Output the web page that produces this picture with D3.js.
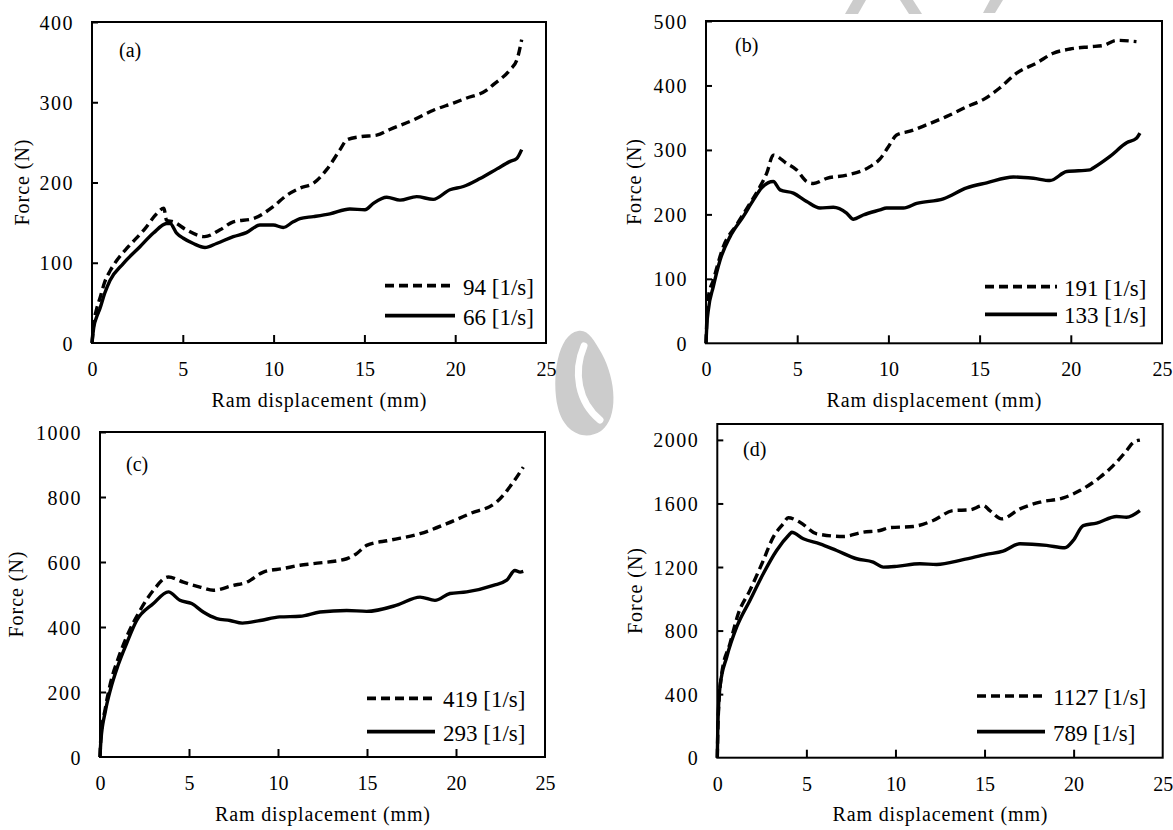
<!DOCTYPE html>
<html><head><meta charset="utf-8">
<script src="https://cdn.jsdelivr.net/npm/d3@7"></script>
<style>
body{margin:0;background:#fff}
svg{display:block}
svg text{font-family:"Liberation Serif","Times New Roman",serif !important;fill:#000}
</style>
</head><body>
<svg id="chart" width="1173" height="830"></svg>
<script>
// ---- data ----
const xTicks = [0, 5, 10, 15, 20, 25];
const yTicksA = [0, 100, 200, 300, 400];
const yTicksB = [0, 100, 200, 300, 400, 500];
const yTicksC = [0, 200, 400, 600, 800, 1000];
const yTicksD = [0, 400, 800, 1200, 1600, 2000];
const panelLabels = ["(a)", "(b)", "(c)", "(d)"];
const legendA = ["94 [1/s]", "66 [1/s]"];
const legendB = ["191 [1/s]", "133 [1/s]"];
const legendC = ["419 [1/s]", "293 [1/s]"];
const legendD = ["1127 [1/s]", "789 [1/s]"];
const xTitle = "Ram displacement (mm)";
const yTitle = "Force (N)";

// [displacement mm, force N]
const a94 = [[0,0],[0.1,25],[0.25,42],[0.44,56],[0.7,76],[1.0,90],[1.4,104],[2.0,120],[2.9,142],[3.56,161],[3.96,168],[4.1,153],[4.48,151],[5.2,141],[6.2,132.5],[7.05,141],[7.78,151],[8.88,155],[9.98,170],[10.72,184],[11.45,193],[12.19,199],[12.92,216],[13.66,241],[14.03,253],[14.76,257],[15.68,259],[16.4,266],[17.7,278],[18.8,290],[19.9,299],[20.6,305],[21.73,315],[22.1,322],[23.0,340],[23.4,353],[23.66,378]];
const a66 = [[0,0],[0.1,20],[0.25,32],[0.44,43],[0.7,62],[0.99,78],[1.72,99],[2.64,120],[3.38,137],[4.11,149],[4.3,149],[4.66,137],[5.03,130.5],[5.58,124],[6.22,119],[6.86,124],[7.78,132.5],[8.5,137.5],[9.25,147],[9.98,147],[10.53,144],[11.08,151],[11.45,155],[12.19,157.5],[13.1,161],[14.2,167],[15.03,166],[15.49,174],[16.23,181.6],[16.96,178],[17.88,182.4],[18.79,179],[19.71,191],[20.45,195],[21.37,205],[22.3,217],[23.0,226],[23.39,230],[23.66,241]];
const b191 = [[0,0],[0.05,40],[0.13,72],[0.4,98],[0.95,150],[1.68,184],[2.41,217],[2.96,243],[3.33,264],[3.69,292],[4.42,279],[4.97,269],[5.52,251],[5.89,248],[6.62,256],[7.72,261],[8.99,274],[9.54,286],[10.0,305],[10.45,323],[11.18,329],[12.1,339],[13.2,352],[14.3,367],[15.2,378],[16.1,396],[17.03,419],[18.13,435],[19.04,450],[19.96,456.5],[21.05,460],[21.78,462],[22.51,470],[23.6,468]];
const b133 = [[0,0],[0.05,30],[0.13,52],[0.4,88],[0.77,129],[1.32,165.5],[2.05,197],[2.6,222.5],[3.05,241],[3.69,251],[4.06,238],[4.79,233],[5.52,220],[6.25,210],[6.98,211],[7.71,202],[8.08,192.5],[8.62,199],[9.54,207],[9.9,210],[10.82,210],[11.55,217],[13.01,224],[14.29,241],[15.39,249],[16.85,258],[17.95,256],[18.86,252.5],[19.78,266.5],[21.05,269],[21.23,272],[22.15,290],[23.06,311],[23.6,318],[23.79,326]];
const c419 = [[0,0],[0.05,60],[0.3,150],[0.6,230],[1.0,300],[1.5,370],[2.25,451],[3.0,513],[3.84,554],[4.68,538],[5.62,523],[6.37,513],[7.49,528],[8.24,538],[9.18,569],[10.3,580],[11.24,590],[11.98,595],[13.86,610],[14.42,626],[14.98,651],[16.29,667],[17.98,687],[19.48,718],[20.79,749],[22.29,785],[23.22,846],[23.78,892]];
const c293 = [[0,0],[0.05,50],[0.3,140],[0.6,210],[1.0,280],[1.5,350],[2.06,420],[3.0,472],[3.84,508],[4.49,482],[5.15,472],[5.8,446],[6.56,426],[7.3,420],[8.0,412],[9.0,420],[10.1,431],[11.24,433],[12.36,446],[13.86,451],[14.98,448],[16.67,467],[17.98,492],[18.82,482],[19.66,503],[20.6,508],[22.1,528],[22.85,544],[23.31,574],[23.6,569],[23.78,571]];
const d1127 = [[0,0],[0.05,250],[0.25,530],[0.71,718],[1.18,907],[1.83,1053],[2.58,1241],[3.14,1388],[3.7,1472],[3.98,1510],[4.64,1482],[5.58,1409],[7.07,1392],[8.19,1419],[9.13,1430],[9.69,1448],[11.0,1455],[12.12,1493],[13.24,1555],[14.18,1560],[14.93,1587],[15.3,1555],[15.96,1503],[16.99,1566],[18.11,1608],[19.42,1635],[20.35,1681],[21.48,1765],[22.22,1838],[22.97,1932],[23.35,1984],[23.72,1999]];
const d789 = [[0,0],[0.03,200],[0.15,446],[0.53,634],[1.09,823],[1.83,990],[2.58,1158],[3.33,1304],[4.08,1409],[4.17,1419],[4.83,1378],[5.76,1346],[6.7,1304],[7.82,1252],[8.75,1231],[9.32,1199],[10.07,1204],[11.37,1221],[12.31,1216],[13.8,1246],[15.1,1279],[16.04,1300],[16.99,1346],[18.48,1336],[19.51,1321],[19.98,1367],[20.54,1461],[21.29,1476],[22.41,1518],[22.97,1513],[23.72,1555]];

// ---- layout ----
const panels = [
  {L:92, R:546, T:22, B:343, ymax:400, yt:yTicksA, label:panelLabels[0], lab:[119,57], leg:legendA, series:[a94,a66],
   title:[319,407], ylab:[22,182.5], lg:{x1:385,x2:455,y1:285.7,y2:315.7,tx:463}},
  {L:706, R:1162, T:21, B:343.3, ymax:500, yt:yTicksB, label:panelLabels[1], lab:[735,52.4], leg:legendB, series:[b191,b133],
   title:[934,407], ylab:[634,182], lg:{x1:985,x2:1057,y1:286.7,y2:314.3,tx:1064}},
  {L:100, R:545, T:432, B:757, ymax:1000, yt:yTicksC, label:panelLabels[2], lab:[126,471.4], leg:legendC, series:[c419,c293],
   title:[322.5,821], ylab:[16,594.5], lg:{x1:367,x2:435,y1:698.3,y2:731.7,tx:443}},
  {L:717.3, R:1162.7, T:424, B:757.7, ymax:2100, yt:yTicksD, label:panelLabels[3], lab:[743,456.4], leg:legendD, series:[d1127,d789],
   title:[940,821], ylab:[635,591], lg:{x1:977,x2:1045,y1:696,y2:731.7,tx:1053}}
];

const FONT = '"Liberation Serif","Times New Roman",serif';
const svg = d3.select("#chart");
svg.append("rect").attr("width",1173).attr("height",830).attr("fill","#fff");

// light grey watermark fragments (background decoration)
const wm = svg.append("g").attr("fill","#cccccc").attr("stroke","none");
wm.append("path").attr("d","M578,331 C558,334 551,378 558,408 C564,432 584,442 601,431 C619,418 616,380 602,354 C594,340 588,329 578,331 Z");
wm.append("path").attr("d","M584,346 C573,372 578,402 600,420").attr("fill","none").attr("stroke","#fff").attr("stroke-width",7).attr("stroke-linecap","round");
wm.append("path").attr("d","M845,14 L858,14 L866,0 L853,0 Z");
wm.append("path").attr("d","M900,0 L913,0 L922,14 L909,14 Z");
wm.append("path").attr("d","M983,13 L995,13 L1003,0 L990,0 Z");

const DASH = "9,5";
const LW = 3.4;

panels.forEach(p => {
  const x = d3.scaleLinear().domain([0,25]).range([p.L,p.R]);
  const y = d3.scaleLinear().domain([0,p.ymax]).range([p.B,p.T]);
  const g = svg.append("g");

  // frame
  g.append("rect").attr("x",p.L).attr("y",p.T).attr("width",p.R-p.L).attr("height",p.B-p.T)
    .attr("fill","none").attr("stroke","#000").attr("stroke-width",2);

  // x axis ticks (inside)
  const xa = d3.axisBottom(x).tickValues(xTicks).tickSize(-8).tickSizeOuter(0).tickPadding(0).tickFormat(d3.format("d"));
  const gx = g.append("g").attr("transform",`translate(0,${p.B})`).call(xa).attr("font-family",FONT);
  gx.select(".domain").remove();
  gx.selectAll(".tick line").attr("stroke","#000").attr("stroke-width",2)
    .filter(d => d===0 || d===25).remove();
  gx.selectAll(".tick text").attr("y",33).attr("dy",null).style("font-size","20px").style("font-family",FONT);

  // y axis ticks (inside)
  const ya = d3.axisLeft(y).tickValues(p.yt).tickSize(-6).tickSizeOuter(0).tickPadding(0).tickFormat(d3.format("d"));
  const gy = g.append("g").attr("transform",`translate(${p.L},0)`).call(ya).attr("font-family",FONT);
  gy.select(".domain").remove();
  gy.selectAll(".tick line").attr("stroke","#000").attr("stroke-width",2)
    .filter(d => d===0).remove();
  gy.selectAll(".tick text").attr("x",-18).attr("dy","0.35em").style("font-size","20px").style("font-family",FONT)
    .attr("letter-spacing","1.5px");

  // lines
  const line = d3.line().x(d=>x(d[0])).y(d=>y(d[1])).curve(d3.curveMonotoneX);
  p.series.forEach((s,i) => {
    g.append("path").datum(s).attr("d",line).attr("fill","none").attr("stroke","#000")
      .attr("stroke-width",LW).attr("stroke-linejoin","round")
      .attr("stroke-dasharray", i===0 ? DASH : null);
  });

  // legend
  const lg = p.lg;
  [lg.y1, lg.y2].forEach((ly,i) => {
    g.append("line").attr("x1",lg.x1).attr("x2",lg.x2).attr("y1",ly).attr("y2",ly)
      .attr("stroke","#000").attr("stroke-width",LW+0.3).attr("stroke-dasharray", i===0 ? DASH : null);
    g.append("text").attr("x",lg.tx).attr("y",ly+9).style("font-size","23px").style("font-family",FONT).text(p.leg[i]);
  });

  // panel label
  g.append("text").attr("x",p.lab[0]).attr("y",p.lab[1]).style("font-size","20px").style("font-family",FONT).text(p.label);

  // axis titles
  g.append("text").attr("x",p.title[0]).attr("y",p.title[1]).attr("text-anchor","middle")
    .style("font-size","20px").style("font-family",FONT).attr("textLength",215).attr("lengthAdjust","spacing").text(xTitle);
  g.append("text").attr("transform",`translate(${p.ylab[0]},${p.ylab[1]}) rotate(-90)`)
    .attr("text-anchor","middle").attr("dy","0.35em").style("font-size","20px").style("font-family",FONT)
    .attr("textLength",86).attr("lengthAdjust","spacing").text(yTitle);
});
</script>
</body></html>
